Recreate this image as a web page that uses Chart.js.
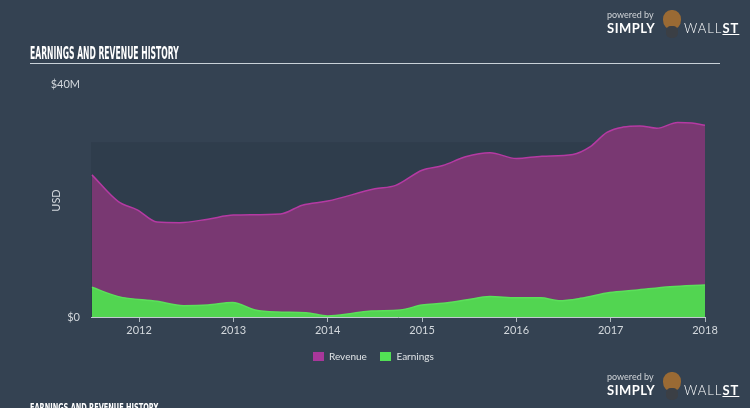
<!DOCTYPE html>
<html lang="en">
<head>
    <meta charset="UTF-8">
    <title>Earnings and Revenue History</title>
    <script src="https://cdn.jsdelivr.net/npm/chart.js"></script>
    <style>
        html, body { margin: 0; padding: 0; }
        body { width: 750px; height: 408px; background: #344252; position: relative; overflow: hidden; font-family: Lato, "Noto Sans", sans-serif; }
        #wrap { position: absolute; left: 0; top: 0; width: 750px; height: 408px; }
        .title { position: absolute; left: 30px; top: 43px; color: #fff; font-family: "DejaVu Sans", sans-serif; font-weight: bold; font-size: 17px; white-space: nowrap; transform: scaleX(0.45); transform-origin: left top; }
        .rule { position: absolute; left: 30px; top: 63px; width: 690px; height: 1px; background: #c9d1d8; }
        .title2 { position: absolute; left: 30px; top: 401px; color: #fff; font-family: "DejaVu Sans", sans-serif; font-weight: bold; font-size: 11px; white-space: nowrap; transform: scaleX(0.6); transform-origin: left top; }
        .logo { position: absolute; left: 607px; color: #fff; }
        .logo .by { font-size: 9px; color: #d0d4d8; position: absolute; left: 0; top: 0; white-space: nowrap; }
        .logo .simply { font-size: 13px; font-weight: bold; position: absolute; left: 0; top: 11px; letter-spacing: 0.5px; }
        .logo .bull { position: absolute; left: 56px; top: 1px; width: 18px; height: 20px; border-radius: 45% 45% 50% 50%; background: #9a6a34; }
        .logo .bull::after { content: ''; position: absolute; left: 3px; top: 16px; width: 12px; height: 12px; border-radius: 40%; background: #3b3f45; }
        .logo .wall { font-size: 13px; font-weight: 300; position: absolute; left: 77px; top: 11px; letter-spacing: 1px; white-space: nowrap; }
        .logo .wall b { text-decoration: underline; font-weight: bold; }
        .legend { position: absolute; top: 349px; left: 313px; font-size: 10px; color: #dfe3e6; white-space: nowrap; }
        .legend span { display: inline-block; vertical-align: middle; }
        .sw { width: 11px; height: 9px; margin-right: 5px; }
    </style>
</head>
<body>
    <div id="wrap"><canvas id="chart" width="750" height="408"></canvas></div>
    <div class="title">EARNINGS AND REVENUE HISTORY</div>
    <div class="rule"></div>
    <div class="logo" style="top:9px"><div class="by">powered by</div><div class="simply">SIMPLY</div><div class="bull"></div><div class="wall">WALL<b>ST</b></div></div>
    <div class="logo" style="top:371px"><div class="by">powered by</div><div class="simply">SIMPLY</div><div class="bull"></div><div class="wall">WALL<b>ST</b></div></div>
    <div class="title2">EARNINGS AND REVENUE HISTORY</div>
    <div class="legend">
        <span class="sw" style="background:#a8379a"></span><span style="margin-right:11px">Revenue</span>
        <span class="sw" style="background:#52e055"></span><span>Earnings</span>
    </div>

    <script>
        // values in $M, time as decimal year
        const revenueDates = [2011.5, 2011.78, 2011.98, 2012.19, 2012.43, 2012.73, 2013.0, 2013.5, 2013.73, 2014.0, 2014.5, 2014.72, 2015.0, 2015.22, 2015.46, 2015.72, 2016.0, 2016.27, 2016.6, 2016.78, 2016.96, 2017.13, 2017.31, 2017.49, 2017.71, 2017.86, 2018.0];
        const revenue = [24.4, 19.8, 18.4, 16.3, 16.2, 16.8, 17.5, 17.7, 19.2, 19.9, 22.0, 22.6, 25.2, 26.0, 27.5, 28.2, 27.2, 27.6, 27.9, 29.2, 31.7, 32.6, 32.8, 32.4, 33.4, 33.3, 32.9];

        const earningsDates = [2011.5, 2011.78, 2012.19, 2012.47, 2012.73, 2012.99, 2013.23, 2013.46, 2013.77, 2014.0, 2014.27, 2014.46, 2014.77, 2015.0, 2015.22, 2015.46, 2015.72, 2016.0, 2016.26, 2016.45, 2016.68, 2016.99, 2017.26, 2017.63, 2018.0];
        const earnings = [5.1, 3.5, 2.7, 1.95, 2.06, 2.5, 1.2, 0.86, 0.75, 0.17, 0.63, 1.03, 1.2, 2.06, 2.35, 2.9, 3.5, 3.3, 3.3, 2.8, 3.2, 4.2, 4.6, 5.2, 5.5];

        const yearTicks = [2012, 2013, 2014, 2015, 2016, 2017, 2018];
        const yTicks = [0, 40];

        const toPoints = (xs, ys) => xs.map((x, i) => ({ x: x, y: ys[i] }));

        // darker band behind the area (0 to 30M)
        const bandPlugin = {
            id: 'band',
            beforeDatasetsDraw(chart) {
                const { ctx, scales: { x, y } } = chart;
                ctx.save();
                ctx.fillStyle = '#2f3d4c';
                const top = y.getPixelForValue(30);
                ctx.fillRect(x.left, top, x.right - x.left, y.getPixelForValue(0) - top);
                ctx.restore();
            }
        };

        new Chart(document.getElementById('chart'), {
            type: 'line',
            data: {
                datasets: [
                    {
                        label: 'Earnings',
                        data: toPoints(earningsDates, earnings),
                        borderColor: '#5be05a',
                        backgroundColor: '#52d551',
                        fill: 'origin',
                        borderWidth: 1.5,
                        pointRadius: 0,
                        cubicInterpolationMode: 'monotone'
                    },
                    {
                        label: 'Revenue',
                        data: toPoints(revenueDates, revenue),
                        borderColor: '#b53aa3',
                        backgroundColor: '#793872',
                        fill: 'origin',
                        borderWidth: 1.5,
                        pointRadius: 0,
                        cubicInterpolationMode: 'monotone'
                    }
                ]
            },
            options: {
                responsive: false,
                animation: false,
                layout: { padding: { top: 84, right: 45, left: 0, bottom: 0 } },
                plugins: { legend: { display: false }, tooltip: { enabled: false } },
                scales: {
                    x: {
                        type: 'linear',
                        min: 2011.49,
                        max: 2018.0,
                        afterBuildTicks: s => { s.ticks = yearTicks.map(v => ({ value: v })); },
                        afterFit: s => { s.height = 91; },
                        ticks: {
                            color: '#d3d8dd',
                            font: { size: 11, family: 'Lato' },
                            padding: 2,
                            maxRotation: 0,
                            callback: v => String(v)
                        },
                        grid: { drawOnChartArea: false, tickLength: 5, color: '#aeb7bf' },
                        border: { color: '#c2cad1', width: 1 }
                    },
                    y: {
                        min: 0,
                        max: 40,
                        afterBuildTicks: s => { s.ticks = yTicks.map(v => ({ value: v })); },
                        afterFit: s => { s.width = 91; },
                        title: { display: true, text: 'USD', color: '#d3d8dd', font: { size: 11, family: 'Lato' }, padding: { top: 50, bottom: 0 } },
                        ticks: {
                            color: '#d3d8dd',
                            font: { size: 11, family: 'Lato' },
                            padding: 3,
                            callback: v => v === 0 ? '$0' : '$' + v + 'M'
                        },
                        grid: { display: false },
                        border: { display: false }
                    }
                }
            },
            plugins: [bandPlugin]
        });
    </script>
</body>
</html>
